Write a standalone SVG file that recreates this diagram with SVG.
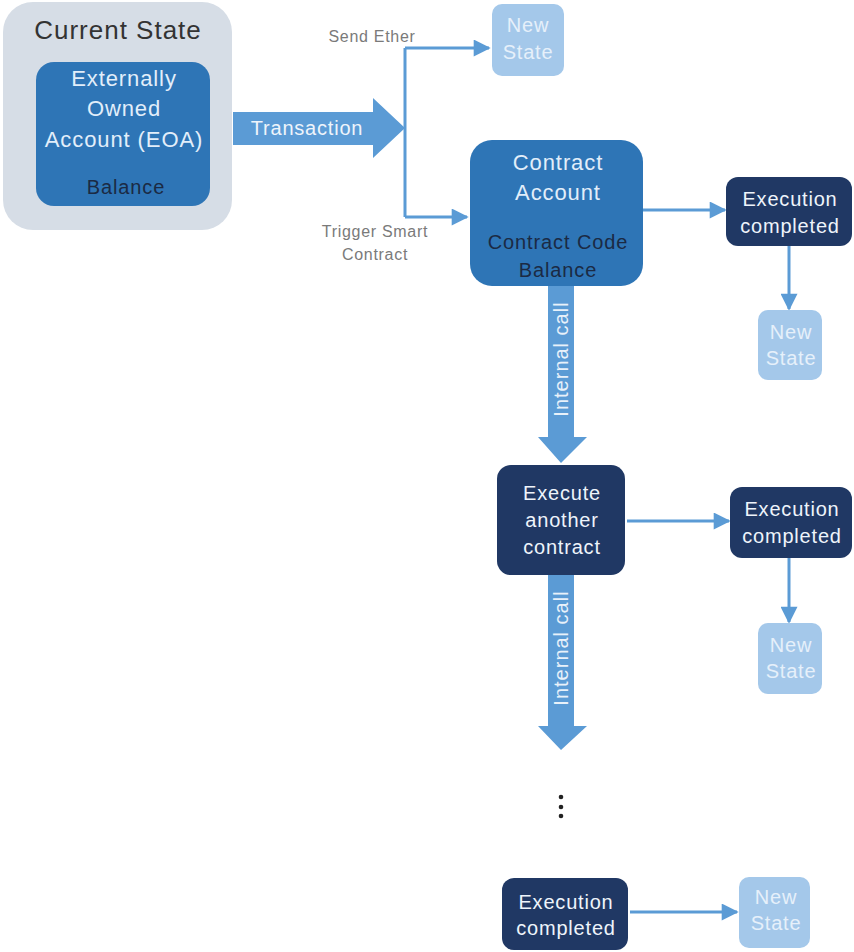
<svg xmlns="http://www.w3.org/2000/svg" width="854" height="952" viewBox="0 0 854 952">
  <style>
    text { font-family: "Liberation Sans", Arial, sans-serif; text-anchor: middle; dominant-baseline: central; }
    .state { fill: #d6dde6; }
    .acct { fill: #2e75b6; }
    .exec { fill: #203864; }
    .newst { fill: #a4c8ea; }
    .lt { fill: #e2eefa; font-size: 22px; letter-spacing: 0.9px; }
    .dk { fill: #1b2a44; font-size: 20px; letter-spacing: 0.9px; }
    .wt { fill: #eef4fb; font-size: 20px; letter-spacing: 0.8px; }
    .ns { fill: #e6f0fa; font-size: 20px; letter-spacing: 0.8px; }
    .lbl { fill: #7a7a7a; font-size: 16px; letter-spacing: 0.7px; }
    .band { fill: #5b9bd5; }
    .line { stroke: #5b9bd5; stroke-width: 3; fill: none; }
    .vlbl { fill: #e8f1fa; font-size: 20px; letter-spacing: 1px; }
  </style>
  <defs>
    <marker id="tipL" viewBox="0 0 10 10" refX="9" refY="5" markerWidth="18" markerHeight="17" orient="auto" markerUnits="userSpaceOnUse">
      <path d="M0,0 L10,5 L0,10 z" fill="#5b9bd5"/>
    </marker>
  </defs>

  <!-- connectors -->
  <g id="connectors">
    <!-- Transaction block arrow -->
    <path class="band" d="M233,112 L373,112 L373,98 L405,128 L373,158 L373,145 L233,145 z"/>
    <text class="wt" x="307" y="128">Transaction</text>
    <!-- branch -->
    <path class="line" d="M405,48 L405,217"/>
    <path class="line" d="M405,48 L489,48" marker-end="url(#tipL)"/>
    <path class="line" d="M405,217 L467,217" marker-end="url(#tipL)"/>
    <text class="lbl" x="372" y="36">Send Ether</text>
    <text class="lbl" x="375" y="231">Trigger Smart</text>
    <text class="lbl" x="375" y="254">Contract</text>
    <!-- contract -> execution completed -->
    <path class="line" d="M643,210 L725,210" marker-end="url(#tipL)"/>
    <path class="line" d="M789,246 L789,309" marker-end="url(#tipL)"/>
    <!-- internal call 1 -->
    <path class="band" d="M548,286 L574,286 L574,437 L587,437 L561,463 L538,437 L548,437 z"/>
    <text class="vlbl" transform="translate(561,359) rotate(-90)">Internal call</text>
    <!-- execute another -> completed -->
    <path class="line" d="M627,521 L729,521" marker-end="url(#tipL)"/>
    <path class="line" d="M789,558 L789,622" marker-end="url(#tipL)"/>
    <!-- internal call 2 -->
    <path class="band" d="M548,575 L574,575 L574,726 L587,726 L561,750 L538,726 L548,726 z"/>
    <text class="vlbl" transform="translate(561,648) rotate(-90)">Internal call</text>
    <!-- continuation dots -->
    <circle cx="561" cy="797" r="2.3" fill="#222"/>
    <circle cx="561" cy="807" r="2.3" fill="#222"/>
    <circle cx="561" cy="816" r="2.3" fill="#222"/>
    <!-- final completed -> new state -->
    <path class="line" d="M630,912 L737,912" marker-end="url(#tipL)"/>
  </g>

  <g id="current-state">
    <rect class="state" x="3" y="2" width="229" height="228" rx="30"/>
    <text x="118" y="30" fill="#333" style="font-size:26px;letter-spacing:1px">Current State</text>
  </g>

  <g id="eoa">
    <rect class="acct" x="36" y="62" width="174" height="144" rx="18"/>
    <text class="lt" x="124" y="78">Externally</text>
    <text class="lt" x="124" y="108">Owned</text>
    <text class="lt" x="124" y="139">Account (EOA)</text>
    <text class="dk" x="126" y="187">Balance</text>
  </g>

  <g id="new-state-1">
    <rect class="newst" x="492" y="4" width="72" height="72" rx="10"/>
    <text class="ns" x="528" y="25">New</text>
    <text class="ns" x="528" y="52">State</text>
  </g>

  <g id="contract-account">
    <rect class="acct" x="470" y="140" width="173" height="146" rx="22"/>
    <text class="lt" x="558" y="162">Contract</text>
    <text class="lt" x="558" y="192">Account</text>
    <text class="dk" x="558" y="242">Contract Code</text>
    <text class="dk" x="558" y="270">Balance</text>
  </g>

  <g id="exec-completed-1">
    <rect class="exec" x="726" y="177" width="126" height="69" rx="12"/>
    <text class="wt" x="790" y="199">Execution</text>
    <text class="wt" x="790" y="226">completed</text>
  </g>

  <g id="new-state-2">
    <rect class="newst" x="758" y="310" width="64" height="70" rx="10"/>
    <text class="ns" x="791" y="332">New</text>
    <text class="ns" x="791" y="358">State</text>
  </g>

  <g id="execute-another">
    <rect class="exec" x="497" y="465" width="128" height="110" rx="14"/>
    <text class="wt" x="562" y="493">Execute</text>
    <text class="wt" x="562" y="520">another</text>
    <text class="wt" x="562" y="547">contract</text>
  </g>

  <g id="exec-completed-2">
    <rect class="exec" x="730" y="487" width="122" height="71" rx="12"/>
    <text class="wt" x="792" y="509">Execution</text>
    <text class="wt" x="792" y="536">completed</text>
  </g>

  <g id="new-state-3">
    <rect class="newst" x="758" y="623" width="64" height="71" rx="10"/>
    <text class="ns" x="791" y="645">New</text>
    <text class="ns" x="791" y="671">State</text>
  </g>

  <g id="exec-completed-3">
    <rect class="exec" x="502" y="878" width="126" height="72" rx="12"/>
    <text class="wt" x="566" y="902">Execution</text>
    <text class="wt" x="566" y="928">completed</text>
  </g>

  <g id="new-state-4">
    <rect class="newst" x="739" y="877" width="71" height="71" rx="10"/>
    <text class="ns" x="776" y="897">New</text>
    <text class="ns" x="776" y="923">State</text>
  </g>
</svg>
